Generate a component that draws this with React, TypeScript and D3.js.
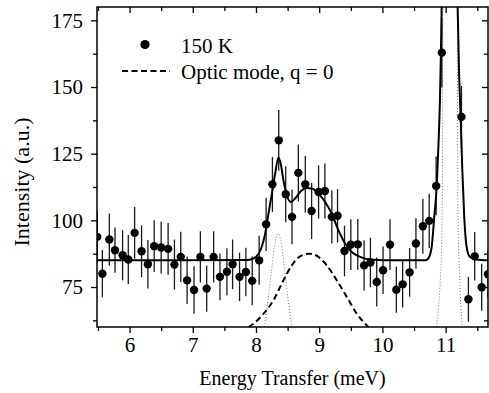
import React, { useEffect, useRef } from 'react';
import * as d3 from 'd3';

// measured intensity, 150 K
const energy = [
  5.49, 5.57, 5.68, 5.77, 5.89, 5.98, 6.08, 6.19, 6.29, 6.39,
  6.50, 6.61, 6.71, 6.81, 6.91, 7.02, 7.12, 7.22, 7.33, 7.43,
  7.54, 7.63, 7.74, 7.84, 7.94, 8.05, 8.16, 8.26, 8.36, 8.47,
  8.57, 8.67, 8.78, 8.88, 8.99, 9.09, 9.20, 9.29, 9.40, 9.50,
  9.61, 9.71, 9.81, 9.91, 10.01, 10.12, 10.22, 10.32, 10.43, 10.53,
  10.64, 10.74, 10.85, 10.94, 11.25, 11.36, 11.46, 11.57, 11.67
];
const intensity = [
  93.8, 80.0, 92.8, 88.8, 86.9, 85.3, 95.3, 88.4, 83.5, 90.3,
  89.8, 89.3, 83.4, 86.3, 77.5, 73.9, 86.3, 74.4, 86.3, 78.8,
  80.7, 83.5, 78.8, 80.6, 77.3, 85.0, 98.5, 113.5, 130.0, 109.8,
  101.3, 117.8, 113.5, 103.5, 110.6, 111.0, 101.3, 101.7, 88.5, 90.9,
  91.0, 83.1, 84.2, 76.9, 81.3, 90.9, 74.0, 76.0, 80.5, 91.3,
  97.8, 99.8, 112.9, 162.9, 138.8, 70.4, 86.5, 74.9, 79.8
];
const errors = [
  9.6, 8.9, 9.8, 8.5, 9.4, 9.2, 9.7, 9.7, 9.1, 9.7,
  9.7, 9.7, 9.4, 9.4, 8.9, 8.9, 9.6, 8.7, 9.6, 8.8,
  8.8, 9.3, 9.1, 9.1, 9.1, 9.2, 10.0, 10.3, 11.4, 10.5,
  10.3, 10.6, 10.6, 10.5, 10.0, 10.3, 10.0, 10.0, 9.5, 9.5,
  9.5, 9.4, 9.3, 9.2, 8.9, 9.5, 8.7, 8.7, 9.1, 9.5,
  10.3, 10.2, 11.0, 13.0, 11.6, 8.4, 9.1, 8.8, 9.0
];

// total fit (solid line)
const fitEnergy = [
  5.485, 7.85, 7.96, 8.04, 8.09, 8.145, 8.197, 8.251, 8.303, 8.355, 8.393, 8.434,
  8.488, 8.551, 8.619, 8.698, 8.793, 8.883, 8.987, 9.093, 9.199, 9.303, 9.409,
  9.515, 9.646, 9.804, 10.04, 10.673, 10.725, 10.779, 10.82, 10.858, 10.883,
  10.91, 10.926, 10.937, 11.063, 11.19, 11.21, 11.237, 11.262, 11.294, 11.332,
  11.384, 11.49, 11.67
];
const fitIntensity = [
  85.0, 85.1, 85.7, 87.5, 90.0, 95.0, 102.5, 110.0, 117.5, 123.6, 121.0, 115.0,
  109.4, 106.9, 108.2, 110.6, 112.1, 111.9, 110.0, 106.9, 102.5, 96.3, 91.3,
  88.1, 86.3, 85.3, 85.0, 85.0, 85.7, 90.0, 101.3, 112.5, 126.3,
  145.0, 163.8, 180, 260, 180, 157.5, 138.8, 120.0, 101.3, 90.0,
  86.3, 85.3, 85.0
];

// narrow components (dotted)
const lowPeakEnergy = [8.08, 8.14, 8.19, 8.24, 8.29, 8.35, 8.41, 8.46, 8.51, 8.56, 8.62];
const lowPeakIntensity = [50, 61, 70, 80, 90, 95, 90, 80, 70, 61, 50];
const highPeakEnergy = [10.83, 10.86, 10.89, 10.92, 10.94, 10.95, 10.955, 11.07, 11.185, 11.19, 11.2, 11.22, 11.24, 11.26, 11.29];
const highPeakIntensity = [52, 61, 68, 80, 95, 120, 180, 300, 180, 120, 95, 80, 68, 61, 52];

// optic mode, q = 0 (dashed)
const opticEnergy = [7.88, 7.96, 8.118, 8.276, 8.434, 8.566, 8.698, 8.845, 8.987, 9.12, 9.278, 9.436, 9.594, 9.777];
const opticIntensity = [60, 61.2, 65, 70, 77.5, 83.1, 86.5, 87.5, 86.3, 83.1, 77.5, 71.3, 65, 60];

const xMajor = [6, 7, 8, 9, 10, 11];
const xMinor = [5.5, 6.5, 7.5, 8.5, 9.5, 10.5, 11.5];
const yMajor = [75, 100, 125, 150, 175];
const yMinor = [62.5, 87.5, 112.5, 137.5, 162.5];

const FONT = 'Liberation Serif, Times New Roman, serif';

function App() {
  const svgRef = useRef(null);

  useEffect(() => {
    const width = 489;
    const height = 393;
    const margin = { top: 7, right: 1, bottom: 66, left: 97 };
    const innerWidth = width - margin.left - margin.right;
    const innerHeight = height - margin.top - margin.bottom;

    const svg = d3.select(svgRef.current)
      .attr('width', width)
      .attr('height', height)
      .attr('font-family', FONT);

    svg.selectAll('*').remove();

    svg.append('defs').append('clipPath')
      .attr('id', 'plot-clip')
      .append('rect')
      .attr('width', innerWidth)
      .attr('height', innerHeight);

    const g = svg.append('g')
      .attr('transform', `translate(${margin.left},${margin.top})`);

    const x = d3.scaleLinear().domain([5.485, 11.67]).range([0, innerWidth]);
    const y = d3.scaleLinear().domain([60, 180]).range([innerHeight, 0]);

    const plot = g.append('g').attr('clip-path', 'url(#plot-clip)');

    const line = d3.line()
      .x(d => x(d[0]))
      .y(d => y(d[1]))
      .curve(d3.curveMonotoneX);

    const pairs = (xs, ys) => xs.map((v, i) => [v, ys[i]]);

    // dotted components
    [pairs(lowPeakEnergy, lowPeakIntensity), pairs(highPeakEnergy, highPeakIntensity)].forEach(pts => {
      plot.append('path')
        .datum(pts)
        .attr('fill', 'none')
        .attr('stroke', '#777')
        .attr('stroke-width', 1)
        .attr('stroke-dasharray', '1,2')
        .attr('d', line);
    });

    // optic mode
    plot.append('path')
      .datum(pairs(opticEnergy, opticIntensity))
      .attr('fill', 'none')
      .attr('stroke', '#000')
      .attr('stroke-width', 2)
      .attr('stroke-dasharray', '6,3.5')
      .attr('d', line);

    // error bars
    plot.selectAll('.err')
      .data(energy)
      .enter()
      .append('line')
      .attr('class', 'err')
      .attr('x1', d => x(d))
      .attr('x2', d => x(d))
      .attr('y1', (d, i) => y(intensity[i] - errors[i]))
      .attr('y2', (d, i) => y(intensity[i] + errors[i]))
      .attr('stroke', '#1a1a1a')
      .attr('stroke-width', 1.3);

    // total fit
    plot.append('path')
      .datum(pairs(fitEnergy, fitIntensity))
      .attr('fill', 'none')
      .attr('stroke', '#000')
      .attr('stroke-width', 2)
      .attr('d', line);

    // data points
    plot.selectAll('.dot')
      .data(energy)
      .enter()
      .append('circle')
      .attr('class', 'dot')
      .attr('cx', d => x(d))
      .attr('cy', (d, i) => y(intensity[i]))
      .attr('r', 4.2)
      .attr('fill', '#000');

    // axes: bottom/left with labels, top/right mirrored
    const styleAxis = sel => {
      sel.attr('font-family', FONT).attr('font-size', 21);
      sel.select('.domain').remove();
      sel.selectAll('line').attr('stroke', '#000').attr('stroke-width', 1.3);
      sel.selectAll('text').attr('fill', '#000');
    };

    g.append('g')
      .attr('transform', `translate(0,${innerHeight})`)
      .call(d3.axisBottom(x).tickValues(xMajor).tickSize(6).tickPadding(4).tickFormat(d3.format('d')))
      .call(styleAxis);
    g.append('g')
      .attr('transform', `translate(0,${innerHeight})`)
      .call(d3.axisBottom(x).tickValues(xMinor).tickSize(4).tickFormat(''))
      .call(styleAxis);
    g.append('g')
      .call(d3.axisBottom(x).tickValues(xMajor).tickSize(6).tickFormat(''))
      .call(styleAxis);
    g.append('g')
      .call(d3.axisBottom(x).tickValues(xMinor).tickSize(4).tickFormat(''))
      .call(styleAxis);

    g.append('g')
      .call(d3.axisLeft(y).tickValues(yMajor).tickSize(6).tickPadding(8).tickFormat(d3.format('d')))
      .call(styleAxis);
    g.append('g')
      .call(d3.axisLeft(y).tickValues(yMinor).tickSize(4).tickFormat(''))
      .call(styleAxis);
    g.append('g')
      .attr('transform', `translate(${innerWidth},0)`)
      .call(d3.axisLeft(y).tickValues(yMajor).tickSize(6).tickFormat(''))
      .call(styleAxis);
    g.append('g')
      .attr('transform', `translate(${innerWidth},0)`)
      .call(d3.axisLeft(y).tickValues(yMinor).tickSize(4).tickFormat(''))
      .call(styleAxis);

    // frame
    g.append('rect')
      .attr('width', innerWidth)
      .attr('height', innerHeight)
      .attr('fill', 'none')
      .attr('stroke', '#000')
      .attr('stroke-width', 1.5);

    // axis titles
    svg.append('text')
      .attr('x', margin.left + innerWidth / 2)
      .attr('y', 385)
      .attr('text-anchor', 'middle')
      .attr('font-family', FONT)
      .attr('font-size', 20)
      .attr('fill', '#000')
      .text('Energy Transfer (meV)');

    svg.append('text')
      .attr('transform', 'translate(29,182) rotate(-90)')
      .attr('text-anchor', 'middle')
      .attr('font-family', FONT)
      .attr('font-size', 22)
      .attr('fill', '#000')
      .text('Intensity (a.u.)');

    // legend
    svg.append('circle')
      .attr('cx', 145)
      .attr('cy', 44.5)
      .attr('r', 4.6)
      .attr('fill', '#000');
    svg.append('text')
      .attr('x', 181)
      .attr('y', 52.5)
      .attr('font-family', FONT)
      .attr('font-size', 21)
      .attr('fill', '#000')
      .text('150 K');
    svg.append('line')
      .attr('x1', 122)
      .attr('x2', 170)
      .attr('y1', 71)
      .attr('y2', 71)
      .attr('stroke', '#000')
      .attr('stroke-width', 2)
      .attr('stroke-dasharray', '6,3.5');
    svg.append('text')
      .attr('x', 181)
      .attr('y', 78.5)
      .attr('font-family', FONT)
      .attr('font-size', 21)
      .attr('fill', '#000')
      .text('Optic mode, q = 0');
  }, []);

  return <svg ref={svgRef} style={{ position: 'absolute', left: 0, top: 0 }}></svg>;
}

export default App;
